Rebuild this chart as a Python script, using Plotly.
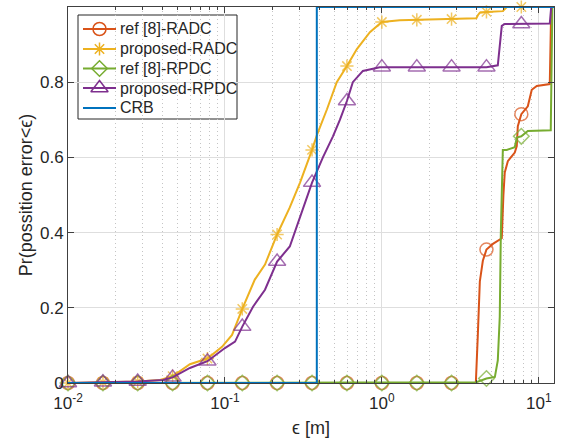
import plotly.graph_objects as go
import math

# ---------------- data ----------------
MARKER_X = [0.01, 0.0167, 0.0278, 0.0464, 0.0774, 0.129, 0.215, 0.359,
            0.599, 1.0, 1.67, 2.78, 4.64, 7.74]

ref_radc_x = [0.01, 0.0167, 0.0278, 0.0464, 0.0774, 0.129, 0.215, 0.359, 0.599, 1.0,
              1.67, 2.78, 3.97, 4.09, 4.21, 4.40, 4.64, 5.10, 5.81, 5.95,
              6.07, 6.35, 7.03, 7.24, 7.35, 7.74, 8.51, 9.02, 9.71, 11.75,
              12.0, 12.5]
ref_radc_y = [0, 0, 0, 0, 0, 0, 0, 0, 0, 0,
              0, 0, 0, 0.13, 0.27, 0.325, 0.355, 0.37, 0.385, 0.5,
              0.56, 0.59, 0.613, 0.63, 0.683, 0.715, 0.736, 0.78, 0.79, 0.795,
              1.0, 1.0]

prop_radc_x = [0.01, 0.0167, 0.0278, 0.0386, 0.0464, 0.0598, 0.0774, 0.0958, 0.111, 0.129,
               0.155, 0.180, 0.215, 0.259, 0.301, 0.359, 0.386, 0.447, 0.516, 0.599,
               0.693, 0.839, 1.0, 1.30, 1.67, 2.78, 4.0, 4.09, 4.21, 4.64,
               5.9, 6.25, 7.74, 12.5]
prop_radc_y = [0, 0.002, 0.004, 0.008, 0.018, 0.05, 0.065, 0.096, 0.128, 0.197,
               0.275, 0.315, 0.395, 0.467, 0.533, 0.62, 0.66, 0.728, 0.80, 0.843,
               0.888, 0.933, 0.96, 0.965, 0.966, 0.968, 0.970, 0.978, 0.985, 0.987,
               0.989, 1.0, 1.0, 1.0]

ref_rpdc_x = [0.01, 0.0167, 0.0278, 0.0464, 0.0774, 0.129, 0.215, 0.359, 0.599, 1.0,
              1.67, 2.78, 4.0, 4.64, 5.25, 5.48, 5.64, 5.73, 5.81, 5.9,
              6.25, 7.03, 7.24, 7.74, 8.51, 11.92, 12.2, 12.5]
ref_rpdc_y = [0, 0, 0, 0, 0, 0, 0, 0, 0, 0,
              0, 0, 0.002, 0.012, 0.016, 0.06, 0.176, 0.4, 0.55, 0.62,
              0.62, 0.627, 0.653, 0.656, 0.67, 0.672, 1.0, 1.0]

prop_rpdc_x = [0.01, 0.0167, 0.0278, 0.0403, 0.0464, 0.0598, 0.0774, 0.1, 0.116, 0.129,
               0.151, 0.180, 0.215, 0.259, 0.314, 0.359, 0.421, 0.488, 0.540, 0.599,
               0.653, 0.757, 0.970, 1.0, 1.67, 2.78, 4.64, 5.48, 5.64, 5.81,
               6.07, 7.74, 11.75, 12.0, 12.5]
prop_rpdc_y = [0, 0.002, 0.004, 0.008, 0.015, 0.04, 0.058, 0.093, 0.11, 0.15,
               0.203, 0.248, 0.323, 0.363, 0.46, 0.533, 0.60, 0.656, 0.70, 0.75,
               0.80, 0.83, 0.84, 0.84, 0.84, 0.84, 0.84, 0.845, 0.90, 0.95,
               0.955, 0.955, 0.956, 1.0, 1.0]

crb_x = [0.01, 0.385, 0.385, 12.5]
crb_y = [0, 0, 1, 1]

series_names = ["ref [8]-RADC", "proposed-RADC", "ref [8]-RPDC", "proposed-RPDC", "CRB"]

x_tickvals = [0.01, 0.1, 1, 10]
x_ticktext = ["10<sup>-2</sup>", "10<sup>-1</sup>", "10<sup>0</sup>", "10<sup>1</sup>"]
x_minor = [m * 10 ** e for e in (-2, -1, 0) for m in range(2, 10)]
y_tickvals = [0, 0.2, 0.4, 0.6, 0.8, 1]
y_ticktext = ["0", "0.2", "0.4", "0.6", "0.8", "1"]

# ---------------- styling ----------------
W, H = 564, 445
L, R, T, B = 68, 10, 7, 62
PW, PH = W - L - R, H - T - B

styles = [
    dict(color="#D95319", symbol="circle-open", size=13),
    dict(color="#EDB120", symbol="asterisk-open", size=11),
    dict(color="#77AC30", symbol="diamond-open", size=12),
    dict(color="#7E2F8E", symbol="triangle-up-open", size=15),
    dict(color="#0072BD", symbol=None, size=0),
]
data = [(ref_radc_x, ref_radc_y), (prop_radc_x, prop_radc_y),
        (ref_rpdc_x, ref_rpdc_y), (prop_rpdc_x, prop_rpdc_y), (crb_x, crb_y)]


def is_marker(v):
    return any(abs(v - m) / m < 1e-6 for m in MARKER_X)


def px_x(p):
    return (p - L) / PW


def px_y(p):
    return (H - B - p) / PH


fig = go.Figure()
for (xs, ys), name, st in zip(data, series_names, styles):
    if st["symbol"] is None:
        fig.add_trace(go.Scatter(x=xs, y=ys, name=name, mode="lines", showlegend=False,
                                 line=dict(color=st["color"], width=2)))
        continue
    sizes = [st["size"] if is_marker(v) else 0 for v in xs]
    lws = [1.5 if is_marker(v) else 0 for v in xs]
    fig.add_trace(go.Scatter(
        x=xs, y=ys, name=name, mode="lines+markers", showlegend=False,
        line=dict(color=st["color"], width=2),
        marker=dict(symbol=st["symbol"], size=sizes, color=st["color"],
                    line=dict(color=st["color"], width=lws)),
        cliponaxis=False))

# ---------------- legend (drawn manually to match MATLAB's compact box) ----------------
LEG_X0, LEG_X1, LEG_Y0, LEG_Y1 = 78, 237, 15, 119
LEG_ROWS = [29, 49, 68.5, 88, 108]
LINE_X0, LINE_X1, TEXT_X = 83, 116, 118

fig.add_shape(type="rect", xref="paper", yref="paper",
              x0=px_x(LEG_X0), x1=px_x(LEG_X1), y0=px_y(LEG_Y1), y1=px_y(LEG_Y0),
              fillcolor="white", line=dict(color="#262626", width=1), layer="between")
for name, st, row in zip(series_names, styles, LEG_ROWS):
    yy = px_y(row)
    fig.add_trace(go.Scatter(x=[px_x(LINE_X0), px_x(LINE_X1)], y=[yy, yy], mode="lines",
                             xaxis="x2", yaxis="y2", showlegend=False, hoverinfo="skip",
                             line=dict(color=st["color"], width=2), cliponaxis=False))
    if st["symbol"] is not None:
        fig.add_trace(go.Scatter(x=[px_x((LINE_X0 + LINE_X1) / 2)], y=[yy], mode="markers",
                                 xaxis="x2", yaxis="y2", showlegend=False, hoverinfo="skip",
                                 marker=dict(symbol=st["symbol"], size=st["size"], color=st["color"],
                                             line=dict(color=st["color"], width=1.5)),
                                 cliponaxis=False))
    fig.add_annotation(text=name, xref="paper", yref="paper", x=px_x(TEXT_X), y=yy,
                       xanchor="left", yanchor="middle", showarrow=False,
                       font=dict(size=16, color="#262626"))

axis_line = "#404040"
fig.update_layout(
    width=W, height=H,
    margin=dict(l=L, r=R, t=T, b=B),
    paper_bgcolor="white", plot_bgcolor="white",
    font=dict(family="Liberation Sans, Arial, sans-serif", size=17, color="#262626"),
    showlegend=False,
    xaxis=dict(type="log", range=[-2, math.log10(12.5)],
               tickmode="array", tickvals=x_tickvals, ticktext=x_ticktext,
               ticks="inside", ticklen=6, tickcolor=axis_line, ticklabelstandoff=5,
               showline=True, linecolor=axis_line, linewidth=1, mirror="ticks",
               showgrid=True, gridcolor="#dedede", gridwidth=1,
               minor=dict(tickmode="array", tickvals=x_minor, ticks="inside", ticklen=3,
                          tickcolor=axis_line, showgrid=True, gridcolor="#c4c4c4",
                          griddash="1px,3px", gridwidth=1),
               zeroline=False,
               title=dict(text="ϵ [m]", font=dict(size=18), standoff=8)),
    yaxis=dict(range=[0, 1], tickmode="array", tickvals=y_tickvals, ticktext=y_ticktext,
               ticks="inside", ticklen=6, tickcolor=axis_line,
               showline=True, linecolor=axis_line, linewidth=1, mirror="ticks",
               showgrid=True, gridcolor="#dedede", gridwidth=1, zeroline=False,
               title=dict(text="Pr(possition error<ϵ)", font=dict(size=18), standoff=2)),
    xaxis2=dict(overlaying="x", range=[0, 1], visible=False, fixedrange=True),
    yaxis2=dict(overlaying="y", range=[0, 1], visible=False, fixedrange=True),
)

fig.write_html("out.html")
